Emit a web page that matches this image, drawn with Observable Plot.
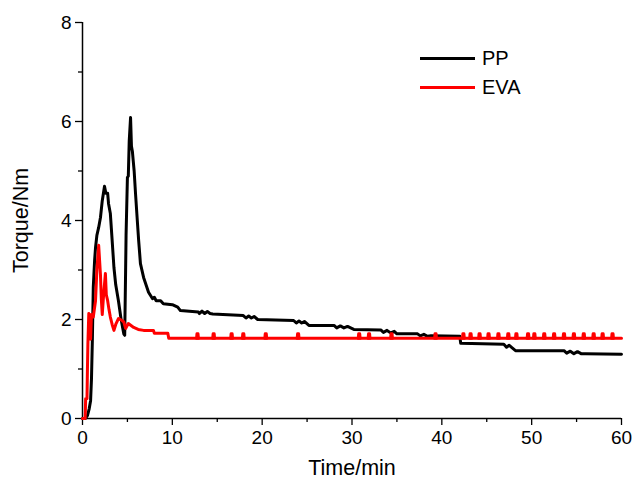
<!DOCTYPE html>
<html>
<head>
<meta charset="utf-8">
<script src="https://cdn.jsdelivr.net/npm/d3@7"></script>
<script src="https://cdn.jsdelivr.net/npm/@observablehq/plot@0.6"></script>
<style>
  html, body { margin: 0; padding: 0; background: #fff; }
  #wrap { position: relative; width: 632px; height: 484px; font-family: "Liberation Sans", Arial, sans-serif; }
  #legend { position: absolute; left: 420px; top: 44px; font-size: 20px; color: #000; }
  #legend .row { display: flex; align-items: center; height: 29px; }
  #legend .sw { width: 55px; height: 3px; margin-right: 7px; }
  svg [aria-label="x-axis label"] text, svg [aria-label="y-axis label"] text { font-size: 21.5px; }
</style>
</head>
<body>
<div id="wrap"><div id="chart"></div><div id="legend"></div></div>
<script>
// Series names and colours
const seriesNames = ["PP", "EVA"];
const seriesColors = ["#000000", "#ff0000"];

// PP torque (Nm) vs time (min)
const ppTime = [0, 0.3, 0.55, 0.75, 0.9, 1.0, 1.1, 1.2, 1.35, 1.45, 1.6, 1.8, 2.0, 2.2, 2.45, 2.6, 2.8, 2.9, 3.1, 3.3, 3.5, 3.7, 4.0, 4.3, 4.6, 4.7, 4.8, 4.85, 5.0, 5.1, 5.2, 5.35, 5.45, 5.55, 5.65, 5.75, 5.9, 6.1, 6.25, 6.45, 6.8, 7.35, 7.8, 8.0, 8.2, 8.7, 9.0, 10.0, 10.6, 10.9, 12.9, 13.0, 13.3, 13.6, 13.9, 14.2, 14.5, 17.9, 18.2, 18.5, 18.8, 19.1, 19.5, 23.5, 23.8, 24.1, 24.4, 24.7, 25.2, 28.0, 28.3, 28.7, 29.1, 29.5, 30.2, 33.2, 33.5, 33.9, 34.3, 34.7, 35.0, 37.3, 37.6, 38.0, 38.4, 38.8, 42.0, 42.1, 46.9, 47.2, 47.5, 47.8, 48.2, 53.6, 53.9, 54.3, 54.7, 55.1, 55.5, 56.0, 60.0];
const ppTorque = [0, 0, 0.06, 0.2, 0.36, 0.8, 1.6, 2.65, 3.2, 3.45, 3.7, 3.86, 4.06, 4.4, 4.69, 4.55, 4.55, 4.34, 4.14, 3.6, 3.05, 2.7, 2.38, 2.0, 1.71, 1.68, 3.0, 3.7, 4.87, 4.9, 5.6, 6.08, 5.5, 5.4, 5.2, 5.0, 4.55, 4.0, 3.6, 3.13, 2.85, 2.55, 2.42, 2.45, 2.38, 2.38, 2.32, 2.3, 2.25, 2.18, 2.15, 2.12, 2.17, 2.12, 2.16, 2.12, 2.11, 2.08, 2.03, 2.07, 2.03, 2.06, 2.0, 1.98, 1.93, 1.97, 1.93, 1.96, 1.88, 1.88, 1.83, 1.87, 1.83, 1.86, 1.8, 1.79, 1.74, 1.78, 1.73, 1.76, 1.71, 1.71, 1.67, 1.7, 1.66, 1.67, 1.66, 1.52, 1.5, 1.44, 1.48, 1.43, 1.37, 1.37, 1.32, 1.36, 1.31, 1.35, 1.31, 1.31, 1.3];

// EVA torque (Nm) vs time (min), main trace
const evaTime = [0, 0.3, 0.35, 0.5, 0.55, 0.6, 0.7, 0.8, 0.9, 1.0, 1.2, 1.45, 1.6, 1.8, 1.9, 2.0, 2.1, 2.2, 2.35, 2.55, 2.65, 2.8, 2.95, 3.1, 3.3, 3.5, 3.7, 4.0, 4.4, 4.6, 4.8, 5.1, 5.4, 5.7, 6.2, 6.8, 7.9, 8.0, 9.5, 9.6, 60.0];
const evaTorque = [0, 0, 0.4, 0.4, 1.0, 1.5, 2.12, 2.0, 1.6, 2.1, 2.05, 2.38, 3.0, 3.5, 3.2, 2.9, 2.4, 2.1, 2.5, 2.93, 2.5, 2.38, 2.2, 2.05, 1.9, 1.78, 1.9, 2.02, 1.98, 1.95, 1.82, 1.92, 1.88, 1.84, 1.8, 1.78, 1.78, 1.72, 1.72, 1.62, 1.62];
// EVA short upward blips on the plateau (time, min) and their peak value
const evaBlipTimes = [12.8, 14.6, 16.6, 17.9, 20.4, 24.0, 30.8, 31.9, 34.4, 39.3, 42.4, 43.2, 44.2, 45.2, 46.3, 47.4, 48.3, 49.6, 50.3, 51.4, 52.5, 53.6, 54.7, 55.8, 56.9, 57.9, 59.0];
const evaBlipTorque = 1.71;
const evaBase = 1.62;

// Axis ticks
const xMajor = [0, 10, 20, 30, 40, 50, 60];
const xMinor = [5, 15, 25, 35, 45, 55];
const yMajor = [0, 2, 4, 6, 8];
const yMinor = [1, 3, 5, 7];

const pp = ppTime.map((t, i) => ({t, v: ppTorque[i]}));
const eva = evaTime.map((t, i) => ({t, v: evaTorque[i]}));
const blips = evaBlipTimes.map(t => [
  {t: t - 0.1, v: evaBase}, {t: t - 0.06, v: evaBlipTorque}, {t: t + 0.06, v: evaBlipTorque}, {t: t + 0.1, v: evaBase}
]);

const chart = Plot.plot({
  width: 632,
  height: 484,
  marginLeft: 82,
  marginRight: 11,
  marginTop: 22,
  marginBottom: 66,
  style: {fontFamily: '"Liberation Sans", Arial, sans-serif', fontSize: "19px", color: "#000", background: "#fff"},
  x: {domain: [0, 60]},
  y: {domain: [0, 8]},
  marks: [
    Plot.axisX({ticks: xMinor, tickSize: 4, text: null, label: null, strokeWidth: 1.3}),
    Plot.axisY({ticks: yMinor, tickSize: 4, text: null, label: null, strokeWidth: 1.3}),
    Plot.axisX({ticks: xMajor, tickSize: 7, tickPadding: 5, tickFormat: d3.format("d"), label: "Time/min", labelAnchor: "center", labelArrow: "none", labelOffset: 56, strokeWidth: 1.3}),
    Plot.axisY({ticks: yMajor, tickSize: 7, tickPadding: 4, tickFormat: d3.format("d"), label: "Torque/Nm", labelAnchor: "center", labelArrow: "none", labelOffset: 70, strokeWidth: 1.3}),
    Plot.ruleX([0], {stroke: "#000", strokeWidth: 1.5}),
    Plot.ruleY([0], {stroke: "#000", strokeWidth: 1.5}),
    Plot.line(pp, {x: "t", y: "v", stroke: seriesColors[0], strokeWidth: 3}),
    Plot.line(eva, {x: "t", y: "v", stroke: seriesColors[1], strokeWidth: 3}),
    ...blips.map(b => Plot.line(b, {x: "t", y: "v", stroke: seriesColors[1], strokeWidth: 3}))
  ]
});
document.getElementById("chart").appendChild(chart);

const legend = document.getElementById("legend");
seriesNames.forEach((name, i) => {
  const row = document.createElement("div");
  row.className = "row";
  const sw = document.createElement("div");
  sw.className = "sw";
  sw.style.background = seriesColors[i];
  const label = document.createElement("span");
  label.textContent = name;
  row.appendChild(sw);
  row.appendChild(label);
  legend.appendChild(row);
});
</script>
</body>
</html>
